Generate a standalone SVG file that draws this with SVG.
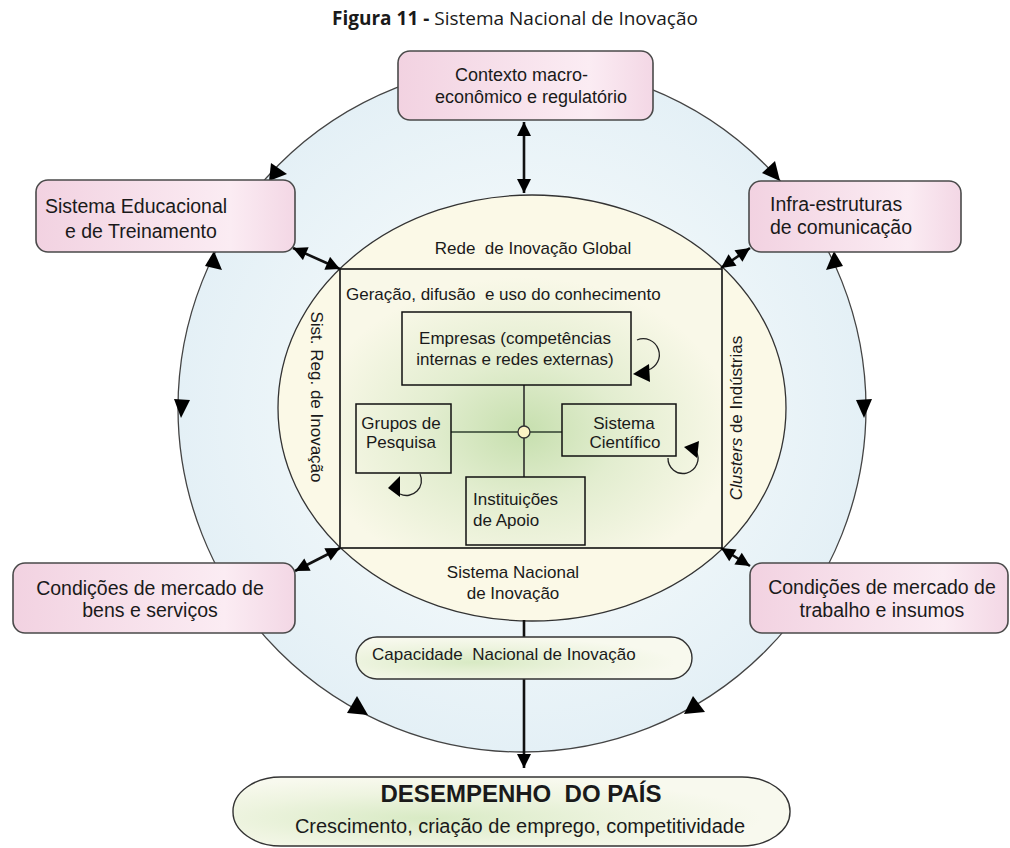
<svg xmlns="http://www.w3.org/2000/svg" width="1010" height="848" viewBox="0 0 1010 848">
<defs>
<style>
.t{font-family:"Liberation Sans",Arial,sans-serif;fill:#1a1a1a;white-space:pre}
.b19{font-size:19.5px}
.b18{font-size:18px}
.s17{font-size:17px}
.pink{fill:url(#gPink);stroke:#4a4a4a;stroke-width:1.6}
.ib{fill:none;stroke:#111;stroke-width:1.5}
.dbl{stroke:#111;stroke-width:2.6;fill:none;marker-start:url(#ah);marker-end:url(#ah)}
.loop{fill:none;stroke:#222;stroke-width:1.3}
.tri{fill:#000}
</style>
<marker id="ah" viewBox="0 0 10 10" refX="10" refY="5" markerWidth="17" markerHeight="14" markerUnits="userSpaceOnUse" orient="auto-start-reverse"><path d="M0,0 L10,5 L0,10 z" fill="#000"/></marker>
<linearGradient id="gPink" x1="0" y1="0" x2="1" y2="0"><stop offset="0" stop-color="#f2d2e1"/><stop offset="0.75" stop-color="#fbecf3"/><stop offset="1" stop-color="#f3d7e5"/></linearGradient>
<radialGradient id="gBlue" cx="0.5" cy="0.5" r="0.5"><stop offset="0.6" stop-color="#eef6f9"/><stop offset="1" stop-color="#e4f0f6"/></radialGradient>
<radialGradient id="gGreen" cx="0.48" cy="0.58" r="0.55" fx="0.48" fy="0.58"><stop offset="0" stop-color="#c6dfae"/><stop offset="0.45" stop-color="#e2edcf"/><stop offset="1" stop-color="#f9f8e8"/></radialGradient>
<radialGradient id="gPill" cx="0.35" cy="0.6" r="0.6"><stop offset="0" stop-color="#d8eac4"/><stop offset="0.6" stop-color="#eef4e0"/><stop offset="1" stop-color="#f8f9ee"/></radialGradient>
</defs>
<rect width="1010" height="848" fill="#fff"/>
<text x="515" y="25" text-anchor="middle" style="font-family:'Open Sans','Noto Sans',sans-serif;font-size:19px;fill:#1a1a1a"><tspan font-weight="bold">Figura 11 -</tspan> Sistema Nacional de Inovação</text>

<g id="outer-circle">
<circle cx="522" cy="408" r="344" fill="url(#gBlue)" stroke="#444" stroke-width="1.3"/>
</g>
<g id="inner-ellipse">
<ellipse cx="532" cy="408" rx="254" ry="213" fill="#fbf9e7" stroke="#333" stroke-width="1.3"/>
<text class="t s17" x="533" y="254" text-anchor="middle">Rede  de Inovação Global</text>
<text class="t s17" x="513" y="578" text-anchor="middle">Sistema Nacional</text>
<text class="t s17" x="513" y="599" text-anchor="middle">de Inovação</text>
<text class="t s17" transform="translate(311,397) rotate(90)" text-anchor="middle">Sist. Reg. de Inovação</text>
<text class="t s17" transform="translate(742,418) rotate(-90)" text-anchor="middle"><tspan font-style="italic">Clusters</tspan> de Indústrias</text>
</g>
<g id="knowledge-rect">
<rect x="340" y="269" width="382" height="279" fill="url(#gGreen)" stroke="#111" stroke-width="1.6"/>
<text class="t s17" x="346" y="300">Geração, difusão  e uso do conhecimento</text>
</g>

<g id="connectors">
<line class="dbl" x1="524" y1="122" x2="524" y2="193"/>
<line class="dbl" x1="293" y1="248" x2="340" y2="269"/>
<line class="dbl" x1="750" y1="248" x2="721" y2="268"/>
<line class="dbl" x1="295" y1="571" x2="340" y2="548"/>
<line class="dbl" x1="750" y1="566" x2="721" y2="548"/>
<line x1="524" y1="620" x2="524" y2="637" stroke="#111" stroke-width="2.6"/>
<line x1="524" y1="679" x2="524" y2="768" stroke="#111" stroke-width="2.6" marker-end="url(#ah)"/>
<line x1="524" y1="385" x2="524" y2="477" stroke="#222" stroke-width="1.5"/>
<line x1="451" y1="432" x2="562" y2="432" stroke="#2f3f2f" stroke-width="1.5"/>
<path class="loop" d="M637,340 A16,16 0 1 1 648,370"/>
<polygon class="tri" points="633,374 649,364 650,382"/>
<path class="loop" d="M420,474 A15,15 0 0 1 400,494"/>
<polygon class="tri" points="388,488 400,476 400,497"/>
<path class="loop" d="M668,458 A15,15 0 1 0 696,451"/>
<polygon class="tri" points="684,447 699,441 697,458"/>
<polygon class="tri" points="269,181 271,163 287,174"/>
<polygon class="tri" points="214,251 205,266 222,270"/>
<polygon class="tri" points="181,418 174,399 190,400"/>
<polygon class="tri" points="357,696 347,713 368,715"/>
<polygon class="tri" points="693,696 684,714 705,712"/>
<polygon class="tri" points="864,418 856,400 872,399"/>
<polygon class="tri" points="834,251 826,270 843,266"/>
<polygon class="tri" points="780,181 762,173 775,161"/>
</g>

<g id="hub"><circle cx="524" cy="432" r="6" fill="#fbf3c4" stroke="#333" stroke-width="1.3"/></g>

<g id="contexto">
<rect class="pink" x="398" y="51" width="255" height="69" rx="12"/>
<text class="t b18" x="455" y="81">Contexto macro-</text>
<text class="t b18" x="435" y="103">econômico e regulatório</text>
</g>
<g id="educacional">
<rect class="pink" x="36" y="180" width="259" height="72" rx="12"/>
<text class="t b19" x="45" y="213">Sistema Educacional</text>
<text class="t b19" x="65" y="238">e de Treinamento</text>
</g>
<g id="infra">
<rect class="pink" x="749" y="181" width="212" height="71" rx="12"/>
<text class="t b19" x="770" y="211">Infra-estruturas</text>
<text class="t b19" x="770" y="234">de comunicação</text>
</g>
<g id="bens">
<rect class="pink" x="13" y="563" width="282" height="70" rx="12"/>
<text class="t b19" x="150" y="595" text-anchor="middle">Condições de mercado de</text>
<text class="t b19" x="150" y="617" text-anchor="middle">bens e serviços</text>
</g>
<g id="trabalho">
<rect class="pink" x="750" y="563" width="258" height="70" rx="12"/>
<text class="t b19" x="882" y="594" text-anchor="middle">Condições de mercado de</text>
<text class="t b19" x="882" y="617" text-anchor="middle">trabalho e insumos</text>
</g>

<g id="empresas">
<rect class="ib" x="402" y="312" width="229" height="73"/>
<text class="t s17" x="515" y="344" text-anchor="middle">Empresas (competências</text>
<text class="t s17" x="515" y="365" text-anchor="middle">internas e redes externas)</text>
</g>
<g id="grupos">
<rect class="ib" x="356" y="404" width="95" height="69"/>
<text class="t s17" x="401" y="429" text-anchor="middle">Grupos de</text>
<text class="t s17" x="401" y="448" text-anchor="middle">Pesquisa</text>
</g>
<g id="cientifico">
<rect class="ib" x="562" y="404" width="114" height="52"/>
<text class="t s17" x="624" y="429" text-anchor="middle">Sistema</text>
<text class="t s17" x="625" y="448" text-anchor="middle">Científico</text>
</g>
<g id="instituicoes">
<rect class="ib" x="466" y="477" width="119" height="68"/>
<text class="t s17" x="473" y="505">Instituições</text>
<text class="t s17" x="473" y="526">de Apoio</text>
</g>

<g id="capacidade">
<rect x="356" y="637" width="336" height="42" rx="21" fill="url(#gPill)" stroke="#333" stroke-width="1.4"/>
<text class="t s17" x="372" y="660">Capacidade  Nacional de Inovação</text>
</g>
<g id="desempenho">
<rect x="233" y="777" width="557" height="69" rx="48" ry="34" fill="url(#gPill)" stroke="#333" stroke-width="1.4"/>
<text class="t" x="521" y="802" text-anchor="middle" style="font-size:24px;font-weight:bold">DESEMPENHO  DO PAÍS</text>
<text class="t" x="520" y="833" text-anchor="middle" style="font-size:20px">Crescimento, criação de emprego, competitividade</text>
</g>
</svg>
